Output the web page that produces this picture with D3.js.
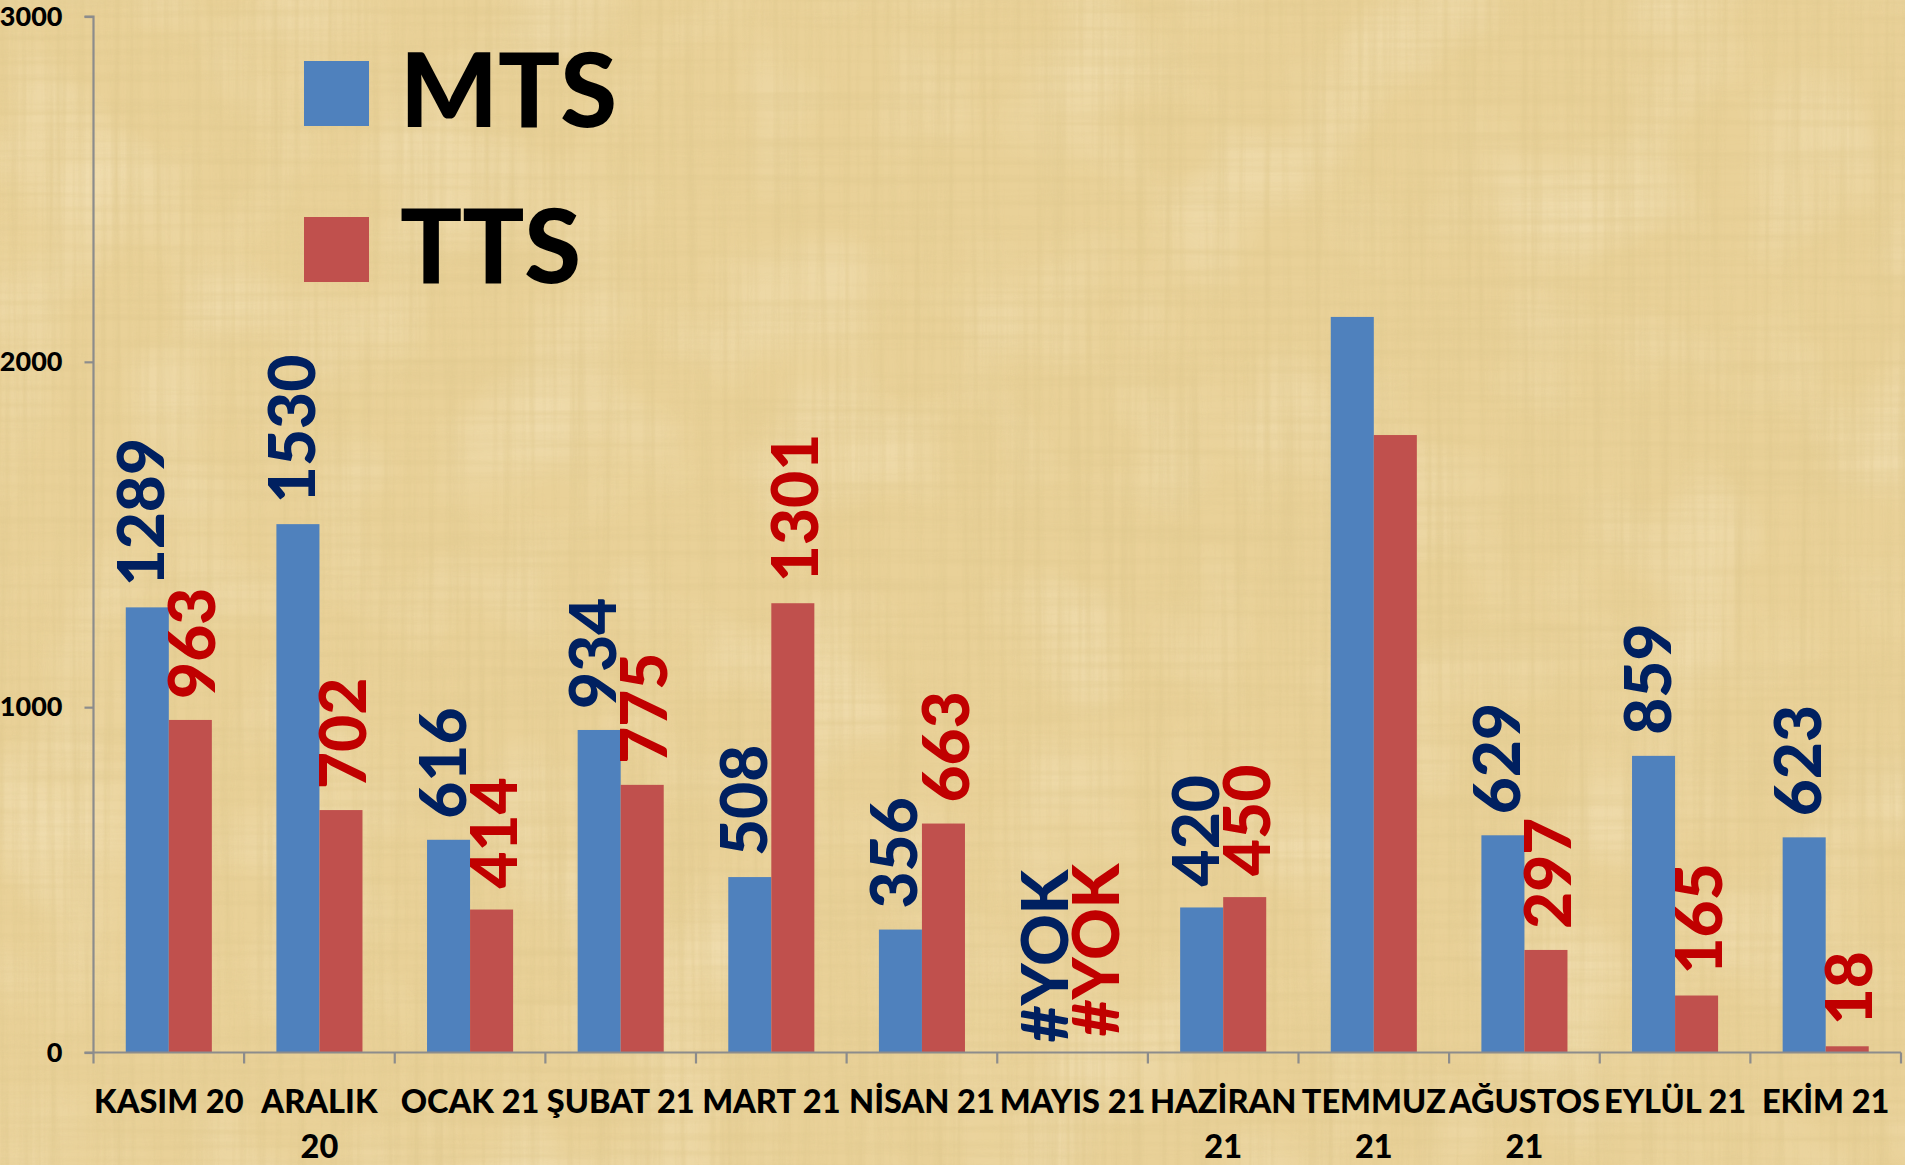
<!DOCTYPE html>
<html>
<head>
<meta charset="utf-8">
<script src="https://cdn.jsdelivr.net/npm/d3@7"></script>
<style>
  html, body { margin: 0; padding: 0; background: #E8CF96; }
  svg { display: block; }
</style>
</head>
<body>
<svg id="chart" width="1905" height="1165"></svg>
<script>
// ---- data ----
const categories = ["KASIM 20", "ARALIK 20", "OCAK 21", "ŞUBAT 21", "MART 21", "NİSAN 21",
                    "MAYIS 21", "HAZİRAN 21", "TEMMUZ 21", "AĞUSTOS 21", "EYLÜL 21", "EKİM 21"];
const seriesNames = ["MTS", "TTS"];
const mtsValues = [1289, 1530, 616, 934, 508, 356, null, 420, 2130, 629, 859, 623];
const ttsValues = [963, 702, 414, 775, 1301, 663, null, 450, 1788, 297, 165, 18];
const yTickValues = [0, 1000, 2000, 3000];
const unlabeledCategories = ["TEMMUZ 21"];
const missingLabel = "#YOK";

// ---- styles ----
const W = 1905, H = 1165;
const plot = { left: 93.5, right: 1901, top: 16.5, bottom: 1052.5 };
const barFill = ["#4F81BD", "#C0504D"];
const labelFill = ["#002060", "#C00000"];
const labelShift = [-6, 2];
const axisColor = "#8C8C8C";
const font = "Lato, 'Open Sans', sans-serif";

const svg = d3.select("#chart");

// ---- papyrus-like background ----
const defs = svg.append("defs");
function streakFilter(id, fx, fy, seed, rgb, k, off, oct) {
  const f = defs.append("filter").attr("id", id)
    .attr("x", 0).attr("y", 0).attr("width", W).attr("height", H)
    .attr("filterUnits", "userSpaceOnUse");
  f.append("feTurbulence").attr("type", "fractalNoise")
    .attr("baseFrequency", fx + " " + fy).attr("numOctaves", oct || 3).attr("seed", seed);
  f.append("feColorMatrix").attr("type", "matrix").attr("values",
    `0 0 0 0 ${rgb[0]}  0 0 0 0 ${rgb[1]}  0 0 0 0 ${rgb[2]}  ${k} 0 0 0 ${off}`);
}
streakFilter("vstreak", 0.14, 0.003, 7, [0.74, 0.58, 0.27], 1.5, -0.6, 3);
streakFilter("hstreak", 0.003, 0.12, 11, [0.74, 0.58, 0.27], 1.4, -0.58, 3);
streakFilter("light", 0.008, 0.008, 3, [1, 0.93, 0.76], 1.3, -0.58, 2);

svg.append("rect").attr("width", W).attr("height", H).attr("fill", "#E9D198");
svg.append("rect").attr("width", W).attr("height", H).attr("filter", "url(#light)").attr("opacity", 0.55);
svg.append("rect").attr("width", W).attr("height", H).attr("filter", "url(#vstreak)").attr("opacity", 0.8);
svg.append("rect").attr("width", W).attr("height", H).attr("filter", "url(#hstreak)").attr("opacity", 0.65);

// ---- scales ----
const x = d3.scaleBand().domain(categories).range([plot.left, plot.right]).padding(0);
const y = d3.scaleLinear().domain([0, 3000]).range([plot.bottom, plot.top]);
const barW = x.bandwidth() / 3.5;

const series = [mtsValues, ttsValues];

// ---- bars ----
series.forEach((vals, s) => {
  svg.append("g").selectAll("rect")
    .data(categories.map((c, i) => ({ c, v: vals[i] })).filter(d => d.v != null))
    .join("rect")
    .attr("x", d => x(d.c) + x.bandwidth() / 2 - barW + s * barW)
    .attr("width", barW)
    .attr("y", d => y(d.v))
    .attr("height", d => y(0) - y(d.v))
    .attr("fill", barFill[s]);
});

// ---- axes ----
const yAxis = svg.append("g").attr("transform", `translate(${plot.left},0)`)
  .call(d3.axisLeft(y).tickValues(yTickValues).tickSize(9).tickPadding(22).tickFormat(d3.format("d")));
yAxis.select(".domain").attr("stroke", axisColor).attr("stroke-width", 2.2).attr("d", `M-9,${y(3000)}H0V${y(0)}`);
yAxis.selectAll(".tick line").attr("stroke", axisColor).attr("stroke-width", 2.2);
yAxis.selectAll(".tick text").attr("font-family", font).attr("font-weight", 900)
  .attr("font-size", 27).attr("fill", "#000");

const xAxis = svg.append("g").attr("transform", `translate(0,${plot.bottom})`);
xAxis.append("line").attr("x1", plot.left - 9).attr("x2", plot.right)
  .attr("stroke", axisColor).attr("stroke-width", 2.2);
const boundaries = categories.map(c => x(c)).concat([x(categories[categories.length - 1]) + x.bandwidth()]);
xAxis.selectAll("line.tk").data(boundaries).join("line").attr("class", "tk")
  .attr("x1", d => d).attr("x2", d => d).attr("y1", 0).attr("y2", 11)
  .attr("stroke", axisColor).attr("stroke-width", 2.2);

// category labels with wrapping
const catG = svg.append("g");
const catSize = 32.5;
categories.forEach(c => {
  const cx = x(c) + x.bandwidth() / 2;
  const t = catG.append("text").attr("x", cx).attr("y", 1113)
    .attr("text-anchor", "middle").attr("font-family", font).attr("font-weight", 900)
    .attr("font-size", catSize).attr("fill", "#000").text(c);
  if (t.node().getComputedTextLength() > x.bandwidth() + 4) {
    const words = c.split(" ");
    const last = words.pop();
    t.text(words.join(" "));
    catG.append("text").attr("x", cx).attr("y", 1158)
      .attr("text-anchor", "middle").attr("font-family", font).attr("font-weight", 900)
      .attr("font-size", catSize).attr("fill", "#000").text(last);
  }
});

// ---- data labels (rotated) ----
series.forEach((vals, s) => {
  categories.forEach((c, i) => {
    if (unlabeledCategories.includes(c)) return;
    const v = vals[i];
    const cx = x(c) + x.bandwidth() / 2 - barW / 2 + s * barW + labelShift[s];
    const base = v == null ? y(0) - (s === 0 ? 10 : 16) : y(v) - 21;
    svg.append("text")
      .attr("transform", `translate(${cx},${base}) rotate(-90)`)
      .attr("dy", "0.36em")
      .attr("font-family", font).attr("font-weight", 900).attr("font-size", 64)
      .attr("fill", labelFill[s])
      .text(v == null ? missingLabel : String(v));
  });
});

// ---- legend ----
const legend = svg.append("g");
const legendY = [61, 217];
seriesNames.forEach((n, s) => {
  legend.append("rect").attr("x", 304).attr("y", legendY[s]).attr("width", 65).attr("height", 65)
    .attr("fill", barFill[s]);
  legend.append("text").attr("x", 400).attr("y", legendY[s] + 66)
    .attr("font-family", font).attr("font-weight", 900).attr("font-size", 103)
    .attr("fill", "#000").text(n);
});
</script>
</body>
</html>
